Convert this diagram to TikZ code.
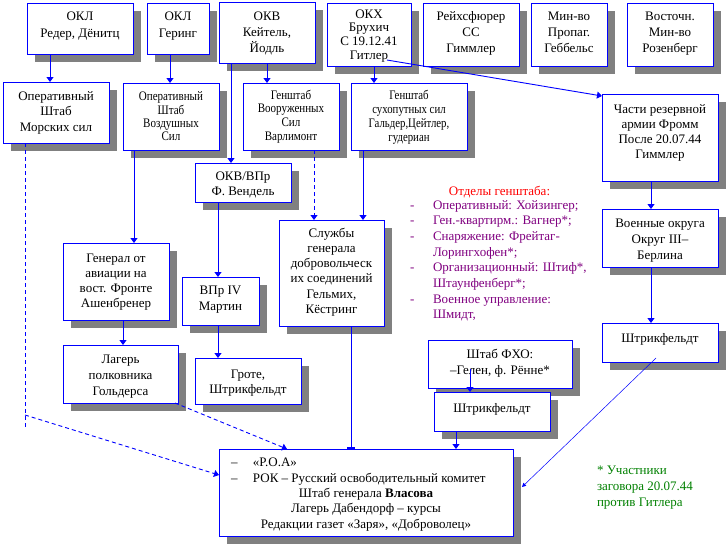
\documentclass[tikz,border=0pt]{standalone}
\usepackage{fontspec}
\setmainfont{Liberation Serif}
\newfontfamily\condA[FakeStretch=0.85]{Liberation Serif}
\newfontfamily\condB[FakeStretch=0.83]{Liberation Serif}
\usetikzlibrary{arrows.meta,calc}
\definecolor{bblue}{RGB}{0,0,255}
\definecolor{dpurple}{RGB}{128,0,128}
\definecolor{dgreen}{RGB}{0,128,0}
\definecolor{bred}{RGB}{255,0,0}
\definecolor{shadegrey}{RGB}{128,128,128}
\tikzset{
 boxst/.style={draw=bblue, line width=0.9pt, fill=white, inner sep=0pt, outer sep=0pt},
 shadowst/.style={fill=shadegrey, draw=none},
 txt/.style={inner sep=0pt, outer sep=0pt, align=center, text=black},
 conn/.style={draw=bblue, line width=0.9pt},
 arr/.style={conn, -{Triangle[width=7pt,length=5pt]}},
 thinarr/.style={draw=bblue, line width=0.5pt, -{Triangle[width=4pt,length=4pt]}},
 dsh/.style={dash pattern=on 4pt off 3pt},
 bartip/.style={conn, -{Rectangle[width=8pt,length=2pt]}},
}
% name, x1, y1, x2, y2, first baseline, font, leading, text
\newcommand\bx[9]{%
 \path[shadowst] ({#2+8},{#3+8}) rectangle ({#4+8},{#5+8});
 \node[boxst, minimum width={(#4-#2)*1pt}, minimum height={(#5-#3)*1pt}, anchor=north west] (#1) at (#2,#3) {};
 \node[txt, anchor=north, font=#7\fontsize{13}{#8}\selectfont] (#1-t) at ({(#2+#4)/2},{#6-11}) {\rule{0pt}{11pt}#9};
}
\begin{document}
\begin{tikzpicture}[x=1pt,y=-1pt]
\useasboundingbox (0,0) rectangle (728,547);

% top row
\bx{okl1}{27}{3}{133}{54}{20.7}{}{17}{ОКЛ\\Редер, Дёнитц}
\bx{okl2}{147}{3}{209}{54}{20.7}{}{17}{ОКЛ\\Геринг}
\bx{okv}{219}{2}{315}{63}{20}{}{16}{ОКВ\\Кейтель,\\Йодль}
\bx{okh}{327}{3}{411}{66}{18}{}{13.7}{ОКХ\\Брухич\\С 19.12.41\\Гитлер}
\bx{rfss}{423}{3}{519}{66}{20}{}{16.3}{Рейхсфюрер\\СС\\Гиммлер}
\bx{prop}{531}{3}{607}{66}{20}{}{16.3}{Мин-во\\Пропаг.\\Геббельс}
\bx{vost}{627}{3}{713}{66}{20}{}{16.3}{Восточн.\\Мин-во\\Розенберг}

% second row
\bx{mor}{3}{82}{109}{143}{100}{}{15.5}{Оперативный\\Штаб\\Морских сил}
\bx{vozd}{123}{83}{219}{150}{100.7}{\condA}{13.3}{Оперативный\\Штаб\\Воздушных\\Сил}
\bx{gsvs}{243}{83}{339}{150}{99}{\condA}{13.7}{Генштаб\\Вооруженных\\Сил\\Варлимонт}
\bx{gssu}{351}{83}{467}{150}{99}{\condB}{14.2}{Генштаб\\сухопутных сил\\Гальдер,Цейтлер,\\гудериан}
\bx{chasti}{602}{94}{718}{181}{113}{}{15.3}{Части резервной\\армии Фромм\\После 20.07.44\\Гиммлер}

% middle
\bx{okvvpr}{195}{163}{291}{202}{180.7}{}{15}{ОКВ/ВПр\\Ф. Вендель}
\bx{sluzh}{279}{220}{384}{326}{237}{}{15.3}{Службы\\генерала\\добровольческ\\их соединений\\Гельмих,\\Кёстринг}
\bx{genav}{63}{243}{169}{320}{262}{}{15}{Генерал от\\авиации на\\вост. Фронте\\Ашенбренер}
\bx{vpr4}{182}{277}{259}{325}{294}{}{16.7}{ВПр IV\\Мартин}
\bx{voen}{602}{209}{718}{267}{227}{}{16}{Военные округа\\Округ III–\\Берлина}
\bx{lager}{63}{345}{178}{403}{363}{}{16}{Лагерь\\полковника\\Гольдерса}
\bx{grote}{195}{358}{301}{404}{378}{}{15}{Гроте,\\Штрикфельдт}
\bx{shtr1}{602}{323}{718}{362}{342}{}{16}{Штрикфельдт}
\bx{fho}{428}{340}{572}{388}{358}{}{16}{Штаб ФХО:\\–Гелен, ф. Рённе*}
\bx{shtr2}{434}{392}{550}{431}{412}{}{16}{Штрикфельдт}

% bottom box
\path[shadowst] (227,457) rectangle (521,544);
\node[boxst, minimum width=294pt, minimum height=87pt, anchor=north west] (vlasov) at (219,449) {};
\node[txt, align=left, anchor=north west, font=\fontsize{13}{16}\selectfont] (vlasov-a) at (231,455)
 {\rule{0pt}{11pt}\makebox[22pt][l]{–}«Р.О.А»\\\makebox[22pt][l]{–}РОК – Русский освободительный комитет};
\node[txt, anchor=north, font=\fontsize{13}{15.5}\selectfont] (vlasov-b) at (366,486)
 {\rule{0pt}{11pt}Штаб генерала \textbf{Власова}\\Лагерь Дабендорф – курсы\\Редакции газет «Заря», «Доброволец»};

% list of departments
\node[txt, anchor=north, text=bred, font=\fontsize{13}{16}\selectfont] (otd) at (499.5,184) {\rule{0pt}{11pt}Отделы генштаба:};
\node[txt, align=left, anchor=north west, text=dpurple, font=\fontsize{13}{15.7}\selectfont] (otdlist) at (410,198)
 {\rule{0pt}{11pt}\makebox[23pt][l]{-}Оперативный: Хойзингер;\\
  \makebox[23pt][l]{-}Ген.-квартирм.: Вагнер*;\\
  \makebox[23pt][l]{-}Снаряжение: Фрейтаг-\\
  \hspace*{23pt}Лорингхофен*;\\
  \makebox[23pt][l]{-}Организационный: Штиф*,\\
  \hspace*{23pt}Штаунфенберг*;\\
  \makebox[23pt][l]{-}Военное управление:\\
  \hspace*{23pt}Шмидт,};

% note
\node[txt, align=left, anchor=north west, text=dgreen, font=\fontsize{13}{16}\selectfont] (note) at (597,463)
 {\rule{0pt}{11pt}* Участники\\заговора 20.07.44\\против Гитлера};

% connectors
\draw[arr] (okl1.south -| 50,0) -- (mor.north -| 50,0);
\draw[arr] (okl2.south -| 170,0) -- (vozd.north -| 170,0);
\draw[arr] (okv.south -| 267,0) -- (gsvs.north -| 267,0);
\draw[arr] (okv.south -| 231,0) -- (okvvpr.north -| 231,0);
\draw[arr] (okh.south -| 374,0) -- (gssu.north -| 374,0);
\draw[arr] ($(okh.south east)+(-24,-6)$) -- ($(chasti.north west)+(0,2)$);
\coordinate (mc) at (25,415);
\coordinate (me) at (25,427);
\draw[conn,dsh] (mor.south -| 25,0) -- (me);
\draw[arr,dsh] (mc) -- (vlasov.west |- 0,475);
\draw[arr] (vozd.south -| 134,0) -- (genav.north -| 134,0);
\draw[arr] (genav.south -| 123,0) -- (lager.north -| 123,0);
\draw[arr,dsh] ($(lager.south east)+(-3,0)$) -- (vlasov.north -| 287,0);
\draw[arr,dsh] (gsvs.south -| 314,0) -- (sluzh.north -| 314,0);
\draw[arr] (gssu.south -| 363,0) -- (sluzh.north -| 363,0);
\draw[arr] (okvvpr.south -| 218,0) -- (vpr4.north -| 218,0);
\draw[arr] (vpr4.south -| 218,0) -- (grote.north -| 218,0);
\draw[bartip] (sluzh.south -| 351,0) -- (vlasov.north -| 351,0);
\draw[arr] (chasti.south -| 651,0) -- (voen.north -| 651,0);
\draw[arr] (voen.south -| 651,0) -- (shtr1.north -| 651,0);
\draw[thinarr] ($(shtr1.south west)+(54,-4)$) -- ($(vlasov.east)+(9,-5.5)$);
\draw[arr] ($(fho.south -| 470,0)+(0,-19)$) -- (shtr2.north -| 470,0);
\draw[arr] (shtr2.south -| 456,0) -- (vlasov.north -| 456,0);
\end{tikzpicture}
\end{document}
